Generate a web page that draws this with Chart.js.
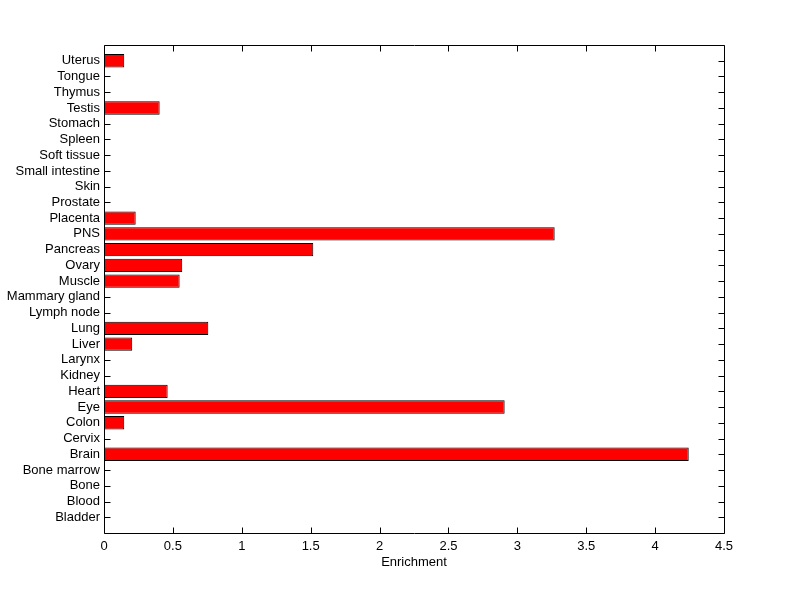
<!DOCTYPE html>
<html>
<head>
<meta charset="utf-8">
<script src="https://cdn.jsdelivr.net/npm/chart.js@4/dist/chart.umd.min.js"></script>
<style>
  html, body { margin: 0; padding: 0; background: #ffffff; }
  #wrap { width: 800px; height: 599px; }
</style>
</head>
<body>
<div id="wrap"><canvas id="c" width="800" height="599"></canvas></div>
<script>
// Categories listed bottom to top
const categories = ["Bladder", "Blood", "Bone", "Bone marrow", "Brain", "Cervix", "Colon", "Eye", "Heart", "Kidney",
  "Larynx", "Liver", "Lung", "Lymph node", "Mammary gland", "Muscle", "Ovary", "Pancreas", "PNS", "Placenta",
  "Prostate", "Skin", "Small intestine", "Soft tissue", "Spleen", "Stomach", "Testis", "Thymus", "Tongue", "Uterus"];
const enrichment = [0, 0, 0, 0, 4.244, 0, 0.147, 2.908, 0.462, 0,
  0, 0.205, 0.757, 0, 0, 0.549, 0.568, 1.519, 3.271, 0.23,
  0, 0, 0, 0, 0, 0, 0.404, 0, 0, 0.147];
const xTicks = [0, 0.5, 1, 1.5, 2, 2.5, 3, 3.5, 4, 4.5];
const xLabel = "Enrichment";

const FONT = { family: "'Liberation Sans', Arial, sans-serif", size: 13 };

const labels = [""].concat(categories, [""]);
const values = [null].concat(enrichment, [null]);

function edges(chart) {
  const a = chart.chartArea;
  return {
    L: Math.round(a.left) + 0.5, R: Math.round(a.right) + 0.5,
    T: Math.round(a.top) + 0.5, B: Math.round(a.bottom) + 0.5
  };
}

const innerTicks = {
  id: 'innerTicks',
  beforeDatasetsDraw(chart) {
    const ctx = chart.ctx;
    const xs = chart.scales.x, ys = chart.scales.y;
    const { L, R, T, B } = edges(chart);
    const len = 6;
    ctx.save();
    ctx.strokeStyle = '#000';
    ctx.lineWidth = 1;
    ctx.beginPath();
    xTicks.forEach(v => {
      const px = Math.round(xs.getPixelForValue(v)) + 0.5;
      ctx.moveTo(px, B); ctx.lineTo(px, B - len);
      ctx.moveTo(px, T); ctx.lineTo(px, T + len);
    });
    categories.forEach((c, i) => {
      const py = Math.round(ys.getPixelForValue(i + 1)) + 0.5;
      ctx.moveTo(L, py); ctx.lineTo(L + len, py);
      ctx.moveTo(R, py); ctx.lineTo(R - len, py);
    });
    ctx.stroke();
    ctx.restore();
  },
  afterDatasetsDraw(chart) {
    const ctx = chart.ctx;
    const { L, R, T, B } = edges(chart);
    ctx.save();
    ctx.strokeStyle = '#000';
    ctx.lineWidth = 1;
    ctx.beginPath();
    ctx.rect(L, T, R - L, B - T);
    ctx.stroke();
    ctx.restore();
  }
};

new Chart(document.getElementById('c'), {
  type: 'bar',
  data: {
    labels: labels,
    datasets: [{
      data: values,
      backgroundColor: '#ff0000',
      borderColor: '#000000',
      borderWidth: 1,
      borderSkipped: false,
      categoryPercentage: 1,
      barPercentage: 0.85
    }]
  },
  options: {
    indexAxis: 'y',
    responsive: false,
    animation: false,
    devicePixelRatio: 1,
    layout: { padding: { top: 45, right: 76, left: 0, bottom: 0 } },
    plugins: { legend: { display: false }, tooltip: { enabled: false } },
    scales: {
      x: {
        type: 'linear',
        min: 0, max: 4.5,
        afterBuildTicks: s => { s.ticks = xTicks.map(v => ({ value: v })); },
        afterFit: s => { s.height = 66; },
        grid: { display: false, drawTicks: false },
        border: { display: false },
        ticks: { color: '#000', font: FONT, padding: 6, maxRotation: 0, autoSkip: false,
                 callback: v => String(v) },
        title: { display: true, text: xLabel, color: '#000', font: FONT, padding: { top: 0, bottom: 29 } }
      },
      y: {
        type: 'category',
        reverse: true,
        offset: false,
        afterFit: s => { s.width = 104; },
        grid: { display: false, offset: false, drawTicks: false },
        border: { display: false },
        ticks: { color: '#000', font: FONT, padding: 4, autoSkip: false }
      }
    }
  },
  plugins: [innerTicks]
});
</script>
</body>
</html>
